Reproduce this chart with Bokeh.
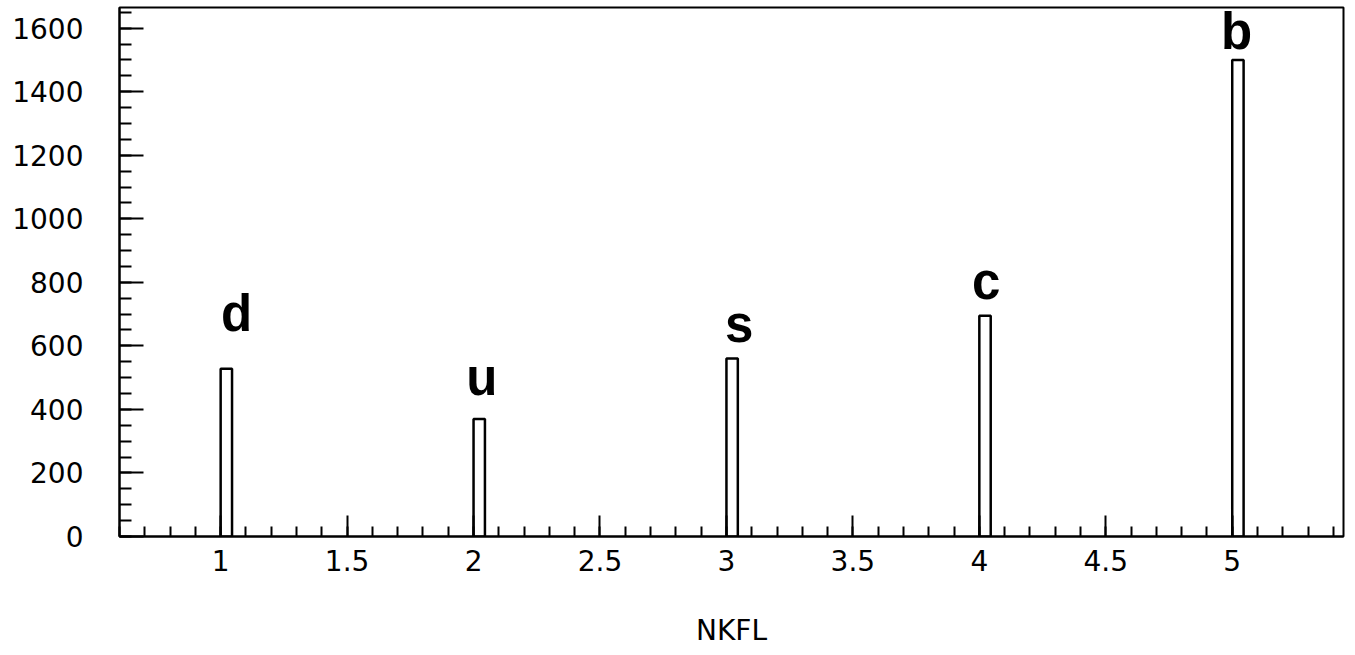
from bokeh.plotting import figure
from bokeh.models import Range1d, SingleIntervalTicker, CustomJSTickFormatter, ColumnDataSource
from bokeh.core.properties import value
from bokeh.embed import file_html
from bokeh.resources import INLINE

# Data
flavours = [1, 2, 3, 4, 5]
counts = [528, 370, 560, 695, 1500]
quark_labels = ["d", "u", "s", "c", "b"]
label_x = [1.063, 2.033, 3.05, 4.027, 5.017]
label_y = [701, 502, 666, 802, 1591]
bin_width = 0.045

p = figure(width=1355, height=655, output_backend="svg", toolbar_location=None,
           x_range=Range1d(0.6, 5.44), y_range=Range1d(0, 1665),
           min_border_left=119, min_border_right=12, min_border_top=7, min_border_bottom=119)
p.background_fill_color = "white"
p.border_fill_color = "white"
p.outline_line_color = "black"
p.outline_line_width = 2
p.xgrid.visible = False
p.ygrid.visible = False

src = ColumnDataSource(dict(left=flavours, right=[f + bin_width for f in flavours],
                            top=counts, bottom=[0] * len(counts)))
p.quad(left="left", right="right", top="top", bottom="bottom", source=src,
       fill_color="white", line_color="black", line_width=2.5)

lsrc = ColumnDataSource(dict(x=label_x, y=label_y, t=quark_labels))
p.text(x="x", y="y", text="t", source=lsrc, text_align="center", text_baseline="alphabetic",
       text_font=value("Liberation Sans"), text_font_style="bold", text_font_size="51px",
       text_color="black")

# Axes
xa = p.xaxis[0]
xa.ticker = SingleIntervalTicker(interval=0.5, num_minor_ticks=5)
xa.formatter = CustomJSTickFormatter(code="return String(Math.round(tick*10)/10);")
xa.axis_label = "NKFL"
ya = p.yaxis[0]
ya.ticker = SingleIntervalTicker(interval=200, num_minor_ticks=4)
ya.formatter = CustomJSTickFormatter(code="return String(Math.round(tick));")

for ax in (xa, ya):
    ax.axis_line_color = "black"
    ax.axis_line_width = 2
    ax.major_tick_line_color = "black"
    ax.major_tick_line_width = 2
    ax.minor_tick_line_color = "black"
    ax.minor_tick_line_width = 2
    ax.major_tick_out = 0
    ax.minor_tick_out = 0
    ax.major_label_text_font = "DejaVu Sans"
    ax.major_label_text_font_size = "28px"
    ax.major_label_text_color = "black"
    ax.axis_label_text_font = "DejaVu Sans"
    ax.axis_label_text_font_size = "28px"
    ax.axis_label_text_font_style = "normal"
    ax.axis_label_text_color = "black"

xa.major_tick_in = 21
xa.minor_tick_in = 10
xa.major_label_standoff = 13
xa.axis_label_standoff = 40
ya.major_tick_in = 24
ya.minor_tick_in = 12
ya.major_label_standoff = 36

open("out.html", "w").write(file_html(p, INLINE))
